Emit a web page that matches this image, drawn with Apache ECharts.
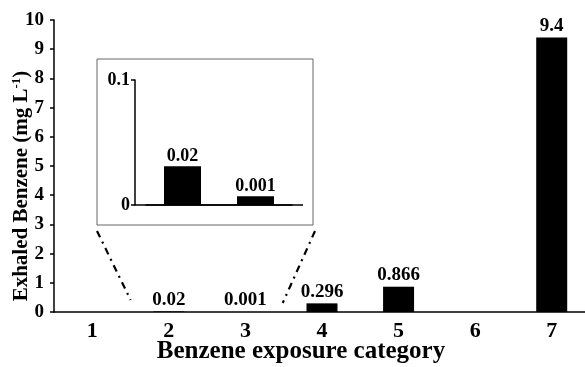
<!DOCTYPE html>
<html><head><meta charset="utf-8">
<script src="https://cdn.jsdelivr.net/npm/echarts@6/dist/echarts.min.js"></script>
<style>html,body{margin:0;padding:0;background:#fff}#c{width:585px;height:367px}</style>
</head><body><div id="c"></div>
<script>
// Main chart data
const categories = ['1', '2', '3', '4', '5', '6', '7'];
const values = [null, 0.02, 0.001, 0.296, 0.866, null, 9.4];
const valueLabels = ['', '0.02', '0.001', '0.296', '0.866', '', '9.4'];
const yTicks = [0, 1, 2, 3, 4, 5, 6, 7, 8, 9, 10];
// Inset (zoom of categories 2 and 3); bar heights as drawn, labels as printed
const insetCategories = ['2', '3'];
const insetValues = [0.031, 0.007];
const insetLabels = ['0.02', '0.001'];
const insetTicks = [0, 0.1];

const FONT = '"Liberation Serif", "Times New Roman", serif';
const chart = echarts.init(document.getElementById('c'), null, {renderer: 'canvas'});

const option = {
  animation: false,
  backgroundColor: '#fff',
  textStyle: {fontFamily: FONT},
  grid: [
    {left: 54, top: 20, width: 536, height: 292, outerBoundsMode: 'none', containLabel: false},
    {left: 146, top: 80, width: 146, height: 125, outerBoundsMode: 'none', containLabel: false}
  ],
  xAxis: [
    {
      gridIndex: 0, type: 'category', data: categories, boundaryGap: true,
      axisLine: {lineStyle: {color: '#000', width: 1.5}},
      axisTick: {alignWithLabel: false, length: 5, lineStyle: {color: '#000', width: 1.5}},
      axisLabel: {color: '#000', fontFamily: FONT, fontWeight: 'bold', fontSize: 22, margin: 8},
      name: 'Benzene exposure category', nameLocation: 'middle', nameGap: 27, nameMoveOverlap: false,
      nameTextStyle: {color: '#000', fontFamily: FONT, fontWeight: 'bold', fontSize: 25, padding: [0, 42, 0, 0]}
    },
    {
      gridIndex: 1, type: 'category', data: insetCategories, boundaryGap: true, z: 5,
      axisLine: {lineStyle: {color: '#000', width: 1.5}},
      axisTick: {length: 4, lineStyle: {color: '#000', width: 1.5}},
      axisLabel: {show: false}
    }
  ],
  yAxis: [
    {
      gridIndex: 0, type: 'value', min: 0, max: 10, interval: 1,
      axisLine: {show: true, lineStyle: {color: '#000', width: 1.5}},
      axisTick: {show: true, length: 4, lineStyle: {color: '#000', width: 1.5}},
      splitLine: {show: false},
      axisLabel: {color: '#000', fontFamily: FONT, fontWeight: 'bold', fontSize: 19, margin: 10,
        formatter: v => yTicks.includes(v) ? String(v) : ''},
      name: 'Exhaled Benzene (mg L{sup|-1})', nameLocation: 'middle', nameGap: 21, nameRotate: 90, nameMoveOverlap: false,
      nameTextStyle: {color: '#000', fontFamily: FONT, fontWeight: 'bold', fontSize: 21, padding: [0, 40, 0, 0],
        rich: {sup: {fontFamily: FONT, fontWeight: 'bold', fontSize: 13, verticalAlign: 'top', padding: [0, 0, 10, 0]}}}
    },
    {
      gridIndex: 1, type: 'value', min: 0, max: 0.1, interval: 0.1, offset: 11, z: 5,
      axisLine: {show: true, lineStyle: {color: '#000', width: 1.5}},
      axisTick: {show: true, length: 4, lineStyle: {color: '#000', width: 1.5}},
      splitLine: {show: false},
      axisLabel: {color: '#000', fontFamily: FONT, fontWeight: 'bold', fontSize: 18, margin: 5,
        formatter: v => insetTicks.includes(v) ? String(v) : ''}
    }
  ],
  series: [
    {
      type: 'bar', xAxisIndex: 0, yAxisIndex: 0, data: values, barWidth: 31,
      itemStyle: {color: '#000'},
      label: {show: true, position: 'top', distance: 2, color: '#000', fontFamily: FONT, fontWeight: 'bold', fontSize: 19,
        formatter: p => valueLabels[p.dataIndex]}
    },
    {
      type: 'bar', xAxisIndex: 1, yAxisIndex: 1, data: insetValues, barWidth: 37,
      itemStyle: {color: '#000'}, z: 20,
      label: {show: true, position: 'top', distance: 1, color: '#000', fontFamily: FONT, fontWeight: 'bold', fontSize: 18,
        formatter: p => insetLabels[p.dataIndex]}
    }
  ]
};
chart.setOption(option);

// Inset frame and dash-dot connector lines (annotations)
const band = chart.convertToPixel({xAxisIndex: 0}, '3') - chart.convertToPixel({xAxisIndex: 0}, '2');
const leftX = chart.convertToPixel({xAxisIndex: 0}, '2') - band / 2;
const rightX = chart.convertToPixel({xAxisIndex: 0}, '3') + band / 2;
const y0 = chart.convertToPixel({yAxisIndex: 0}, 0);
const insetY0 = chart.convertToPixel({yAxisIndex: 1}, 0);
const box = {x: 97, y: 59, w: 216, h: 166};
const dash = {stroke: '#000', lineWidth: 2.2, lineDash: [7, 5, 2, 5]};
chart.setOption({
  graphic: [
    {type: 'rect', z: 1, shape: {x: box.x, y: box.y, width: box.w, height: box.h},
      style: {fill: '#fff', stroke: '#666', lineWidth: 1}},
    {type: 'line', z: 10, shape: {x1: 135, y1: insetY0, x2: 303, y2: insetY0},
      style: {stroke: '#000', lineWidth: 1.5}},
    {type: 'line', z: 10, shape: {x1: box.x, y1: box.y + box.h + 6, x2: leftX, y2: y0 - 12}, style: dash},
    {type: 'line', z: 10, shape: {x1: box.x + box.w + 2, y1: box.y + box.h + 6, x2: rightX - 1, y2: y0 - 9}, style: dash}
  ]
});
</script></body></html>
